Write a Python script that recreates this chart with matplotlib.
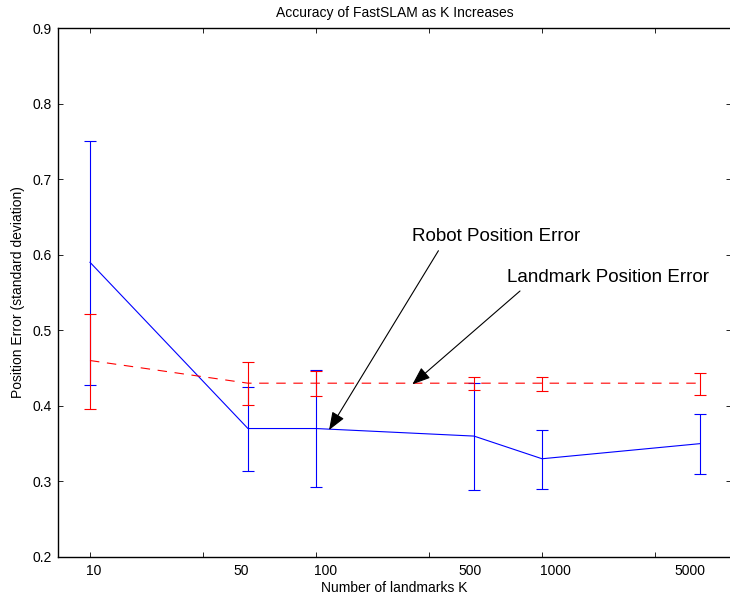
import matplotlib
matplotlib.use("Agg")
import matplotlib.pyplot as plt
from matplotlib.ticker import NullFormatter

plt.rcParams["font.family"] = ["Liberation Sans", "DejaVu Sans"]
plt.rcParams["lines.scale_dashes"] = False

# Data
num_landmarks = [10, 50, 100, 500, 1000, 5000]
tick_labels = ["10", "50", "100", "500", "1000", "5000"]
# the labels in the original sit a little off the data points
label_pos = [10.41, 46.6, 110.7, 479.6, 1141, 4518]

robot_err = [0.59, 0.37, 0.37, 0.36, 0.33, 0.35]
robot_upper = [0.751, 0.4245, 0.447, 0.43, 0.3685, 0.389]
robot_lower = [0.427, 0.314, 0.292, 0.289, 0.29, 0.31]

landmark_err = [0.46, 0.43, 0.43, 0.43, 0.43, 0.43]
landmark_upper = [0.522, 0.458, 0.4465, 0.438, 0.4386, 0.444]
landmark_lower = [0.396, 0.401, 0.4126, 0.4205, 0.42, 0.415]

half_decades = [10, 31.62, 100, 316.2, 1000, 3162]

robot_yerr = [[m - lo for m, lo in zip(robot_err, robot_lower)],
              [hi - m for m, hi in zip(robot_err, robot_upper)]]
landmark_yerr = [[m - lo for m, lo in zip(landmark_err, landmark_lower)],
                 [hi - m for m, hi in zip(landmark_err, landmark_upper)]]

fig = plt.figure(figsize=(7.3, 6.03), dpi=100)
ax = fig.add_axes([58 / 730, 1 - 557 / 603, 673 / 730, 529 / 603])

ax.errorbar(num_landmarks, robot_err, yerr=robot_yerr, color="blue",
            linewidth=0.8, elinewidth=0.8, capsize=4.5, capthick=0.8)
ax.errorbar(num_landmarks, landmark_err, yerr=landmark_yerr, color="red",
            linewidth=0.8, elinewidth=0.8, capsize=4.5, capthick=0.8,
            linestyle=(0, (6.8, 5.5)))

ax.set_xscale("log")
ax.set_xlim(7.22, 6855)
ax.set_ylim(0.2, 0.9)
ax.set_yticks([0.2, 0.3, 0.4, 0.5, 0.6, 0.7, 0.8, 0.9])

ax.set_xticks(label_pos, tick_labels)
ax.set_xticks(half_decades, minor=True)
ax.xaxis.set_minor_formatter(NullFormatter())
ax.tick_params(axis="x", which="major", length=0, pad=5, labelsize=10)
ax.tick_params(axis="x", which="minor", direction="in", length=3.5,
               width=0.6, top=True, bottom=True)
ax.tick_params(axis="y", direction="in", length=3.5, width=0.6,
               left=True, right=True, pad=4.5, labelsize=10)

for s in ax.spines.values():
    s.set_linewidth(1.0)

ax.set_xlabel("Number of landmarks K", fontsize=10, labelpad=2)
ax.set_ylabel("Position Error (standard deviation)", fontsize=10, labelpad=5)
ax.set_title("Accuracy of FastSLAM as K Increases", fontsize=10, pad=8)

arrow = dict(arrowstyle="-|>,head_length=1.1,head_width=0.42",
             color="black", linewidth=0.8, shrinkA=0, shrinkB=0)
ax.annotate("", xy=(114.2, 0.368), xytext=(348, 0.6053), arrowprops=arrow)
ax.annotate("", xy=(267, 0.4285), xytext=(799, 0.552), arrowprops=arrow)
ax.text(265, 0.6238, "Robot Position Error", fontsize=13.5, va="center")
ax.text(698, 0.5696, "Landmark Position Error", fontsize=13.5, va="center")

fig.savefig("out.png", dpi=100)
